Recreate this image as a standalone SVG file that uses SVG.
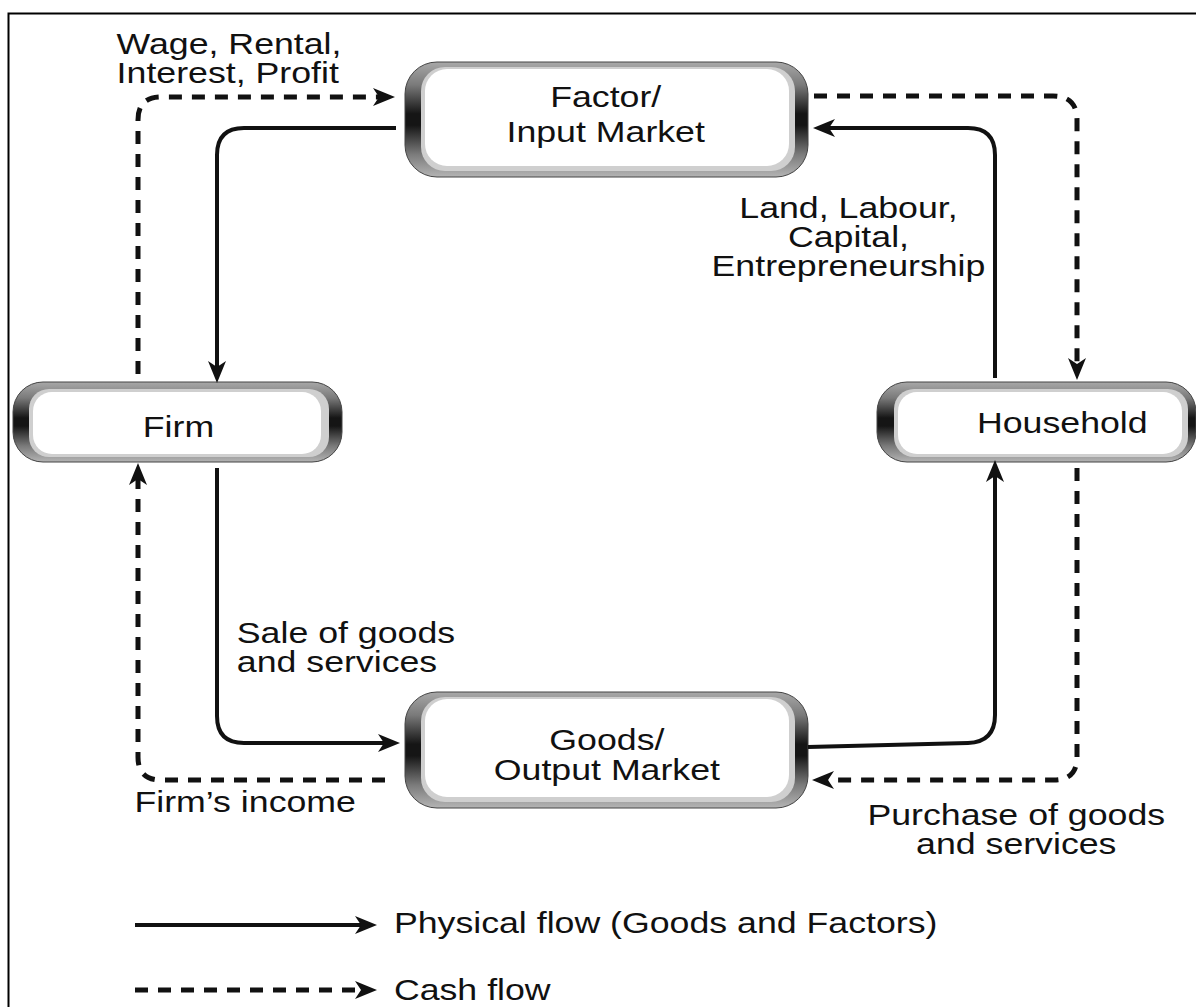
<svg xmlns="http://www.w3.org/2000/svg" width="1196" height="1007" viewBox="0 0 1196 1007">
  <style>
    .lbl { font-family: "Liberation Sans", Arial, sans-serif; font-size: 30px; fill: #111; }
    .mid { text-anchor: middle; }
    .flow { fill: none; stroke: #111; stroke-width: 4; }
    .cash { fill: none; stroke: #111; stroke-width: 5; stroke-dasharray: 13 10; }
    .bezel { fill: url(#chrome); stroke: #444; stroke-width: 1; }
    .rim { fill: #cfcfcf; }
    .face { fill: #fff; }
  </style>
  <defs>
    <linearGradient id="chrome" x1="0" y1="0" x2="0" y2="1">
      <stop offset="0" stop-color="#a8a8a8"/>
      <stop offset="0.2" stop-color="#7a7a7a"/>
      <stop offset="0.45" stop-color="#151515"/>
      <stop offset="0.55" stop-color="#151515"/>
      <stop offset="0.8" stop-color="#7a7a7a"/>
      <stop offset="1" stop-color="#b4b4b4"/>
    </linearGradient>
    <marker id="head" markerUnits="userSpaceOnUse" markerWidth="24" markerHeight="20" refX="12" refY="9" orient="auto">
      <path d="M0,0 L22,9 L0,18 L6,9 Z" fill="#111"/>
    </marker>
  </defs>

  <rect width="1196" height="1007" fill="#fff"/>
  <!-- outer frame -->
  <path d="M8.5,1007 V13.5 H1196" fill="none" stroke="#000" stroke-width="2"/>

  <g id="node-factor-market">
    <rect class="bezel" x="405" y="62" width="403" height="115" rx="32"/>
    <rect class="rim" x="421" y="67" width="374" height="104" rx="24"/>
    <rect class="face" x="425" y="69" width="364" height="97" rx="22"/>
    <g transform="scale(1.19 1)">
      <text class="lbl mid" x="509" y="107">Factor/</text>
      <text class="lbl mid" x="509" y="142">Input Market</text>
    </g>
  </g>

  <g id="node-firm">
    <rect class="bezel" x="13" y="382" width="329" height="80" rx="30"/>
    <rect class="rim" x="29" y="389" width="300" height="68" rx="20"/>
    <rect class="face" x="33" y="392" width="288" height="62" rx="19"/>
    <g transform="scale(1.19 1)">
      <text class="lbl" x="120" y="437">Firm</text>
    </g>
  </g>

  <g id="node-household">
    <rect class="bezel" x="877" y="382" width="319" height="80" rx="30"/>
    <rect class="rim" x="894" y="389" width="294" height="68" rx="20"/>
    <rect class="face" x="898" y="392" width="284" height="62" rx="19"/>
    <g transform="scale(1.19 1)">
      <text class="lbl" x="821" y="433">Household</text>
    </g>
  </g>

  <g id="node-goods-market">
    <rect class="bezel" x="405" y="692" width="403" height="116" rx="32"/>
    <rect class="rim" x="421" y="697" width="374" height="105" rx="24"/>
    <rect class="face" x="425" y="699" width="364" height="98" rx="22"/>
    <g transform="scale(1.19 1)">
      <text class="lbl mid" x="510" y="750">Goods/</text>
      <text class="lbl mid" x="510" y="780">Output Market</text>
    </g>
  </g>

  <g id="connectors">
    <!-- physical flows -->
    <path class="flow" d="M396,128 H244 Q217,128 217,155 V373" marker-end="url(#head)"/>
    <path class="flow" d="M217,468 V716 Q217,743 244,743 H390" marker-end="url(#head)"/>
    <path class="flow" d="M808,747 L968,743 Q995,742 995,715 V470" marker-end="url(#head)"/>
    <path class="flow" d="M995,378 V155 Q995,128 968,128 H823" marker-end="url(#head)"/>
    <!-- cash flows -->
    <path class="cash" d="M138,374 V120 Q138,97 161,97 H385" marker-end="url(#head)"/>
    <path class="cash" d="M814,96 H1053 Q1077,96 1077,120 V370" marker-end="url(#head)"/>
    <path class="cash" d="M1077,468 V757 Q1077,780 1054,780 H822" marker-end="url(#head)"/>
    <path class="cash" d="M385,780 H161 Q138,780 138,757 V473" marker-end="url(#head)"/>
    <!-- legend strokes -->
    <path class="flow" d="M135,925 H367" marker-end="url(#head)"/>
    <path class="cash" d="M135,990 H367" stroke-dasharray="12 10" marker-end="url(#head)"/>
  </g>

  <g id="labels" transform="scale(1.19 1)">
    <text class="lbl" x="98" y="54">Wage, Rental,</text>
    <text class="lbl" x="98" y="83">Interest, Profit</text>
    <text class="lbl mid" x="713" y="218">Land, Labour,</text>
    <text class="lbl mid" x="713" y="247">Capital,</text>
    <text class="lbl mid" x="713" y="276">Entrepreneurship</text>
    <text class="lbl" x="199" y="643">Sale of goods</text>
    <text class="lbl" x="199" y="672">and services</text>
    <text class="lbl" x="113" y="812">Firm’s income</text>
    <text class="lbl mid" x="854" y="825">Purchase of goods</text>
    <text class="lbl mid" x="854" y="854">and services</text>
    <text class="lbl" x="331" y="933">Physical flow (Goods and Factors)</text>
    <text class="lbl" x="331" y="1000">Cash flow</text>
  </g>
</svg>
